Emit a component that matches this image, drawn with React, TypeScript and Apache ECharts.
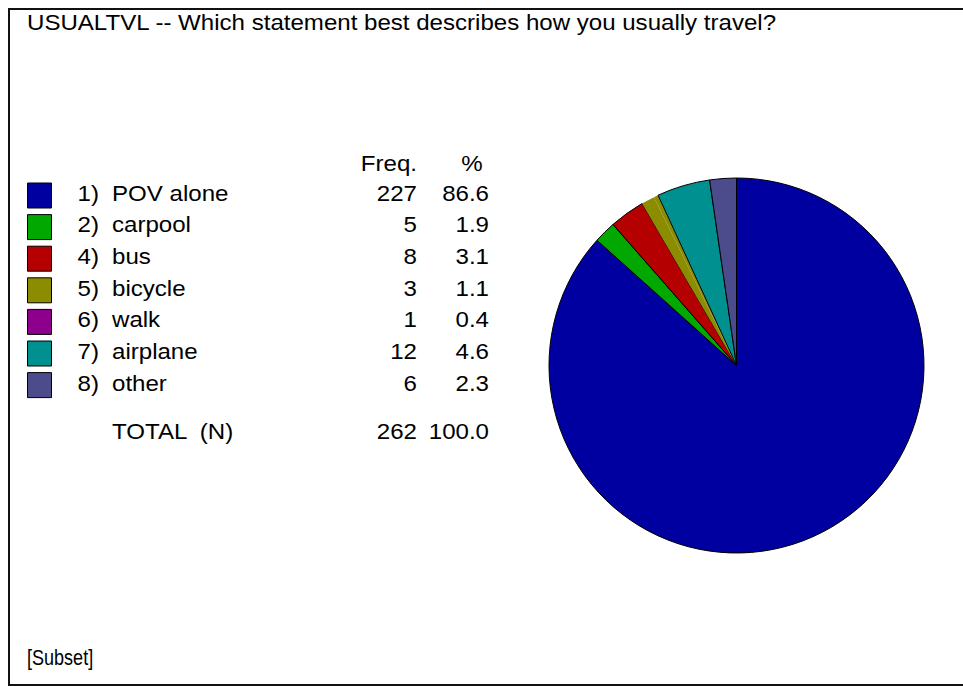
import React, { useEffect, useRef } from "react";
import * as echarts from "echarts";

const titleText = "USUALTVL -- Which statement best describes how you usually travel?";
const footText = "[Subset]";
const codes = ["1)", "2)", "4)", "5)", "6)", "7)", "8)"];
const categories = ["POV alone", "carpool", "bus", "bicycle", "walk", "airplane", "other"];
const freq = [227, 5, 8, 3, 1, 12, 6];
const pct = ["86.6", "1.9", "3.1", "1.1", "0.4", "4.6", "2.3"];
const totalLabel = "TOTAL  (N)";
const totalFreq = "262";
const totalPct = "100.0";
const colors = ["#0000A0", "#00A800", "#B40000", "#8C8C00", "#8C008C", "#009090", "#4C4C8C"];
// in the picture, the walk sliver is not visible inside the pie (merged with bicycle)
const pieColors = ["#0000A0", "#00A800", "#B40000", "#8C8C00", "#8C8C00", "#009090", "#4C4C8C"];
const pieBorders = [1, 1, 1, 0, 0, 1, 1];

const FONT = "'Liberation Sans', Arial, Helvetica, sans-serif";
const FS = 22;
const SX = 1.095;

export default function App() {
  const ref = useRef<HTMLDivElement>(null);
  useEffect(() => {
    document.body.style.margin = "0";
    const chart = echarts.init(ref.current!, null, { renderer: "svg" });
    const txt = (text: string, x: number, y: number, align: string = "left", sx: number = SX) => ({
      type: "text",
      x,
      y,
      scaleX: sx,
      style: { text, fill: "#000", font: `${FS}px ${FONT}`, align, verticalAlign: "middle" },
    });
    const graphic: any[] = [
      {
        type: "rect",
        shape: { x: 9, y: 9, width: 1000, height: 676 },
        style: { fill: "none", stroke: "#111", lineWidth: 2 },
        z: 0,
      },
      txt(titleText, 27, 22),
      txt("Freq.", 417, 163, "right"),
      txt("%", 472, 163, "center"),
    ];
    categories.forEach((c, i) => {
      const ty = 193 + i * 31.7;
      const sy = 183 + i * 31.6;
      graphic.push({
        type: "rect",
        shape: { x: 27.5, y: sy, width: 24, height: 25 },
        style: { fill: colors[i], stroke: "#000", lineWidth: 1 },
      });
      graphic.push(txt(codes[i], 99, ty, "right"));
      graphic.push(txt(c, 112, ty));
      graphic.push(txt(String(freq[i]), 417, ty, "right"));
      graphic.push(txt(pct[i], 489, ty, "right"));
    });
    graphic.push(txt(totalLabel, 112, 431));
    graphic.push(txt(totalFreq, 417, 431, "right"));
    graphic.push(txt(totalPct, 489, 431, "right"));
    graphic.push(txt(footText, 27, 657, "left", 0.82));

    chart.setOption({
      animation: false,
      graphic,
      series: [
        {
          type: "pie",
          center: [736.5, 365.5],
          radius: 187.5,
          startAngle: 90,
          clockwise: true,
          label: { show: false },
          labelLine: { show: false },
          emphasis: { disabled: true },
          itemStyle: { borderColor: "#000", borderWidth: 1 },
          data: categories.map((c, i) => ({
            name: c,
            value: freq[i],
            itemStyle: { color: pieColors[i], borderWidth: pieBorders[i] },
          })),
        },
      ],
    });
    return () => chart.dispose();
  }, []);
  return <div ref={ref} style={{ width: 963, height: 686 }} />;
}
